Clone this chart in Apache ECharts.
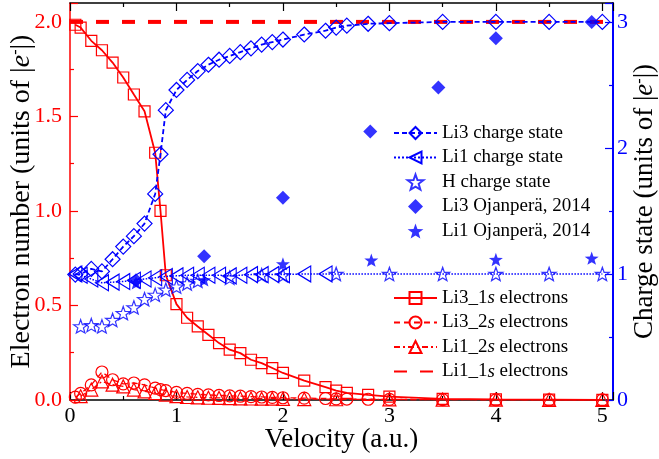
<!DOCTYPE html>
<html><head><meta charset="utf-8">
<script src="https://cdn.jsdelivr.net/npm/echarts@6/dist/echarts.min.js"></script>
<style>html,body{margin:0;padding:0;background:#fff}#c{width:659px;height:459px}</style>
</head><body><div id="c"></div>
<script>
// ---------- data ----------
const li3Velocity = [0.05,0.1,0.2,0.3,0.4,0.5,0.6,0.7,0.8,0.85,0.9,1.0,1.1,1.2,1.3,1.4,1.5,1.6,1.7,1.8,1.9,2.0,2.2,2.4,2.5,2.6,2.8,3.0,3.5,4.0,4.5,5.0];
const li3OneS =     [1.985,1.97,1.90,1.85,1.785,1.706,1.616,1.527,1.308,1.0,0.66,0.507,0.435,0.389,0.345,0.301,0.266,0.248,0.213,0.195,0.169,0.143,0.103,0.068,0.05,0.038,0.027,0.018,0.006,0.003,0.002,0.001];
const li3TwoS =     [0.015,0.035,0.08,0.148,0.107,0.085,0.09,0.08,0.063,0.055,0.05,0.04,0.035,0.03,0.027,0.024,0.022,0.02,0.018,0.016,0.014,0.012,0.01,0.008,0.006,0.005,0.004,0.003,0.002,0.001,0.001,0.001];
const li3Charge =   [0.995,1.0,1.04,1.02,1.117,1.217,1.30,1.40,1.635,1.95,2.30,2.46,2.54,2.61,2.66,2.70,2.73,2.76,2.79,2.82,2.84,2.86,2.90,2.93,2.955,2.97,2.985,2.99,3.0,3.0,3.0,3.0];

const li1TwoSVelocity = [0.1,0.2,0.3,0.4,0.5,0.6,0.7,0.8,0.9,1.0,1.1,1.2,1.3,1.4,1.5,1.6,1.7,1.8,1.9,2.0,2.2,2.5,3.0,3.5,4.0,4.5,5.0];
const li1TwoS =         [0.02,0.055,0.098,0.081,0.072,0.055,0.046,0.037,0.028,0.02,0.016,0.014,0.012,0.011,0.01,0.009,0.008,0.007,0.007,0.006,0.005,0.004,0.003,0.002,0.002,0.001,0.001];

const li1OneSVelocity = [0, 5.1];
const li1OneS = [2.0, 2.0];

const li1ChargeVelocity = [0.05,0.1,0.2,0.3,0.4,0.5,0.6,0.7,0.8,0.9,1.0,1.1,1.2,1.3,1.4,1.5,1.6,1.7,1.8,1.9,2.0,2.2,2.4,2.5,3.0,3.5,4.0,4.5,5.0];
const li1Charge =         [1.0,0.99,0.96,0.93,0.935,0.94,0.95,0.96,0.97,0.98,0.985,0.99,0.99,0.99,0.99,0.985,0.99,0.995,0.995,0.995,0.995,1.0,1.0,1.0,1.0,1.0,1.0,1.0,1.0];
const li1ChargeMarkerMaxV = 2.4;

const hVelocity = [0.1,0.2,0.3,0.4,0.5,0.6,0.7,0.8,0.9,1.0,1.1,1.2,1.5,1.8,2.0,2.5,3.0,3.5,4.0,4.5,5.0];
const hCharge =   [0.585,0.595,0.585,0.635,0.69,0.735,0.80,0.835,0.875,0.9,0.925,0.945,0.97,0.99,0.99,1.0,1.0,1.0,1.0,1.0,1.0];

const li3OjVelocity = [0.62,1.26,2.0,2.82,3.46,4.0,4.9];
const li3OjCharge =   [0.95,1.14,1.605,2.13,2.48,2.87,3.0];
const li1OjVelocity = [0.62,1.26,2.0,2.83,4.0,4.9];
const li1OjCharge =   [0.93,0.953,1.08,1.11,1.115,1.125];

const xTicks = [0,1,2,3,4,5];
const leftTicks = [0,0.5,1.0,1.5,2.0];
const rightTicks = [0,1,2,3];

// ---------- helpers ----------
const pairs = (xs, ys) => xs.map((x, i) => [x, ys[i]]);
const FONT = 'Liberation Serif';
const RED = '#ff0000', BLUE = '#0000ff';
const STAR = 'path://M0,-10L2.35,-3.24L9.51,-3.09L3.8,1.24L5.88,8.09L0,4.6L-5.88,8.09L-3.8,1.24L-9.51,-3.09L-2.35,-3.24Z';
const DIAMOND = 'path://M0,-10L10,0L0,10L-10,0Z';
const hollow = c => ({ color: 'rgba(255,255,255,0)', borderColor: c, borderWidth: 1.2 });

const chart = echarts.init(document.getElementById('c'), null, { renderer: 'canvas' });

const makeNameRich = size => ({
  n: { fontFamily: FONT, fontSize: size, color: '#000' },
  i: { fontFamily: FONT, fontSize: size, fontStyle: 'italic', color: '#000' },
  s: { fontFamily: FONT, fontSize: Math.round(size * 0.58), color: '#000', verticalAlign: 'top' }
});
const unitName = prefix => `{n|${prefix} (units of |}{i|e}{s|-}{n||)}`;

const legendRich = {
  n: { fontFamily: FONT, fontSize: 19, color: '#000' },
  i: { fontFamily: FONT, fontSize: 19, fontStyle: 'italic', color: '#000' }
};
const legendFormatter = name => {
  const m = name.match(/^(Li\d_\d)s( electrons)$/);
  if (m) return `{n|${m[1]}}{i|s}{n|${m[2]}}`;
  return `{n|${name}}`;
};

const li1ChargeData = li1ChargeVelocity.map((x, i) =>
  x <= li1ChargeMarkerMaxV ? [x, li1Charge[i]] : { value: [x, li1Charge[i]], symbol: 'none' });

const option = {
  animation: false,
  backgroundColor: '#fff',
  grid: { left: 70, right: 46, top: 3, bottom: 59, containLabel: false, outerBoundsMode: 'none' },
  xAxis: [
    {
      type: 'value', min: 0, max: 5.1, interval: 1, position: 'bottom',
      name: '{n|Velocity (a.u.)}', nameLocation: 'middle', nameGap: 26, nameMoveOverlap: false,
      nameTextStyle: { rich: makeNameRich(27) },
      axisLine: { show: true, onZero: false, lineStyle: { color: '#000', width: 1.5 } },
      axisTick: { show: true, inside: true, length: 8, lineStyle: { color: '#000', width: 1.2 } },
      minorTick: { show: true, splitNumber: 2, length: 4, lineStyle: { color: '#000', width: 1.2 } },
      axisLabel: { fontFamily: FONT, fontSize: 22, color: '#000', margin: 5,
        formatter: v => xTicks.includes(v) ? String(v) : '' },
      splitLine: { show: false }
    },
    {
      type: 'value', min: 0, max: 5.1, interval: 1, position: 'top',
      axisLine: { show: true, onZero: false, lineStyle: { color: '#000', width: 1.5 } },
      axisTick: { show: true, inside: true, length: 8, lineStyle: { color: '#000', width: 1.2 } },
      minorTick: { show: true, splitNumber: 2, length: 4, lineStyle: { color: '#000', width: 1.2 } },
      axisLabel: { show: false },
      splitLine: { show: false }
    }
  ],
  yAxis: [
    {
      type: 'value', min: 0, max: 2.1, interval: 0.5, position: 'left',
      name: unitName('Electron number'), nameLocation: 'middle', nameGap: 34, nameRotate: 90,
      nameMoveOverlap: false,
      nameTextStyle: { rich: makeNameRich(28) },
      axisLine: { show: true, onZero: false, lineStyle: { color: RED, width: 1.5 } },
      axisTick: { show: true, inside: true, length: 8, lineStyle: { color: RED, width: 1.2 } },
      minorTick: { show: true, splitNumber: 2, length: 4, lineStyle: { color: RED, width: 1.2 } },
      axisLabel: { fontFamily: FONT, fontSize: 22, color: RED, margin: 8,
        formatter: v => leftTicks.includes(v) ? v.toFixed(1) : '' },
      splitLine: { show: false }
    },
    {
      type: 'value', min: 0, max: 3.15, interval: 1, position: 'right',
      name: unitName('Charge state'), nameLocation: 'middle', nameGap: 18.5, nameRotate: 90,
      nameMoveOverlap: false,
      nameTextStyle: { rich: makeNameRich(27) },
      axisLine: { show: true, onZero: false, lineStyle: { color: BLUE, width: 2 } },
      axisTick: { show: true, inside: true, length: 8, lineStyle: { color: BLUE, width: 1.2 } },
      minorTick: { show: true, splitNumber: 2, length: 4, lineStyle: { color: BLUE, width: 1.2 } },
      axisLabel: { fontFamily: FONT, fontSize: 22, color: BLUE, margin: 4,
        formatter: v => rightTicks.includes(v) ? String(v) : '' },
      splitLine: { show: false }
    }
  ],
  legend: [
    {
      orient: 'vertical', left: 393, top: 123.5, padding: 0, itemWidth: 43, itemHeight: 15, itemGap: 5.5,
      selectedMode: false,
      data: ['Li3 charge state', 'Li1 charge state', 'H charge state', 'Li3 Ojanperä, 2014', 'Li1 Ojanperä, 2014'],
      formatter: legendFormatter,
      textStyle: { rich: legendRich }
    },
    {
      orient: 'vertical', left: 393, top: 288.5, padding: 0, itemWidth: 43, itemHeight: 15, itemGap: 5.5,
      selectedMode: false,
      data: ['Li3_1s electrons', 'Li3_2s electrons', 'Li1_2s electrons', 'Li1_1s electrons'],
      formatter: legendFormatter,
      textStyle: { rich: legendRich }
    }
  ],
  series: [
    {
      name: 'Li1_1s electrons', type: 'line', xAxisIndex: 0, yAxisIndex: 0,
      data: pairs(li1OneSVelocity, li1OneS), showSymbol: false, symbol: 'circle',
      itemStyle: { color: 'rgba(0,0,0,0)', borderWidth: 0 },
      lineStyle: { color: RED, width: 4, type: [13, 13] }, z: 2
    },
    {
      name: 'Li3_1s electrons', type: 'line', xAxisIndex: 0, yAxisIndex: 0,
      data: pairs(li3Velocity, li3OneS), symbol: 'rect', symbolSize: 11,
      itemStyle: hollow(RED), lineStyle: { color: RED, width: 1.8 }, z: 3
    },
    {
      name: 'Li3_2s electrons', type: 'line', xAxisIndex: 0, yAxisIndex: 0,
      data: pairs(li3Velocity, li3TwoS), symbol: 'circle', symbolSize: 12,
      itemStyle: hollow(RED), lineStyle: { color: RED, width: 1.3, type: [6, 4] }, z: 3
    },
    {
      name: 'Li1_2s electrons', type: 'line', xAxisIndex: 0, yAxisIndex: 0,
      data: pairs(li1TwoSVelocity, li1TwoS), symbol: 'triangle', symbolSize: 13,
      itemStyle: hollow(RED), lineStyle: { color: RED, width: 1.3, type: [6, 3, 2, 3] }, z: 3
    },
    {
      name: 'Li3 charge state', type: 'line', xAxisIndex: 0, yAxisIndex: 1,
      data: pairs(li3Velocity, li3Charge), symbol: 'diamond', symbolSize: 15,
      itemStyle: hollow(BLUE), lineStyle: { color: BLUE, width: 1.8, type: [5, 3] }, z: 4
    },
    {
      name: 'Li1 charge state', type: 'line', xAxisIndex: 0, yAxisIndex: 1,
      data: li1ChargeData, symbol: 'triangle', symbolSize: [16, 13], symbolRotate: 90,
      itemStyle: hollow(BLUE), lineStyle: { color: BLUE, width: 1.5, type: 'dotted' }, z: 4
    },
    {
      name: 'H charge state', type: 'scatter', xAxisIndex: 0, yAxisIndex: 1,
      data: pairs(hVelocity, hCharge), symbol: STAR, symbolSize: 14, symbolKeepAspect: true,
      itemStyle: hollow(BLUE), z: 5
    },
    {
      name: 'Li3 Ojanperä, 2014', type: 'scatter', xAxisIndex: 0, yAxisIndex: 1,
      data: pairs(li3OjVelocity, li3OjCharge), symbol: DIAMOND, symbolSize: 14, symbolKeepAspect: true,
      itemStyle: { color: BLUE }, z: 6
    },
    {
      name: 'Li1 Ojanperä, 2014', type: 'scatter', xAxisIndex: 0, yAxisIndex: 1,
      data: pairs(li1OjVelocity, li1OjCharge), symbol: STAR, symbolSize: 14, symbolKeepAspect: true,
      itemStyle: { color: BLUE }, z: 6
    }
  ]
};
chart.setOption(option);
</script></body></html>
